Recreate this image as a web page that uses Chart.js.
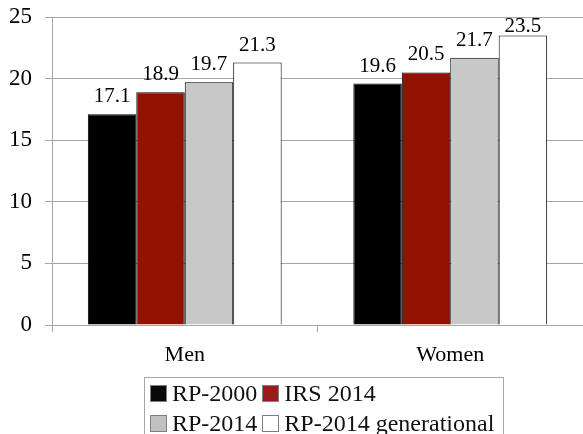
<!DOCTYPE html>
<html lang="en">
<head>
  <meta charset="UTF-8" />
  <title>Life expectancy by mortality table</title>
  <script src="https://cdn.jsdelivr.net/npm/chart.js"></script>
  <style>
    * { margin: 0; padding: 0; box-sizing: border-box; }
    body { background: #fff; font-family: 'Liberation Serif', serif; }
    .wrap { position: relative; width: 583px; height: 434px; overflow: hidden; }
    .legend {
      position: absolute; left: 144px; top: 377px; width: 360px; height: 80px;
      border: 1px solid #a6a6a6; padding: 0 0 0 5px;
      display: grid; grid-template-columns: max-content max-content; justify-content: start;
      align-content: start; column-gap: 5px; font-size: 24px; line-height: 30px;
      color: #111; white-space: nowrap;
    }
    .legend span.box {
      display: inline-block; width: 17px; height: 17px; vertical-align: -1px;
      margin-right: 5px; border: 1px solid #7f7f7f;
    }
  </style>
</head>
<body>
  <div class="wrap">
    <canvas id="chart"></canvas>
    <div class="legend" id="legend"></div>
  </div>

  <script>
    // categories and series
    const categories = ['Men', 'Women'];
    const seriesNames = ['RP-2000', 'IRS 2014', 'RP-2014', 'RP-2014 generational'];
    const rp2000 = [17.1, 19.6];
    const irs2014 = [18.9, 20.5];
    const rp2014 = [19.7, 21.7];
    const rp2014Gen = [21.3, 23.5];
    const yTicks = [0, 5, 10, 15, 20, 25];

    const barColors = ['#000000', '#921100', '#c8c8c8', '#ffffff'];
    const legendColors = ['#0a0a0a', '#9b1b1b', '#c0c0c0', '#ffffff'];
    const allSeries = [rp2000, irs2014, rp2014, rp2014Gen];

    // value labels above each bar, kept inside the plot area
    const barLabels = {
      id: 'barLabels',
      afterDatasetsDraw(chart) {
        const ctx = chart.ctx;
        const top = chart.chartArea.top;
        ctx.save();
        ctx.font = '21px "Liberation Serif", serif';
        ctx.fillStyle = '#000';
        ctx.textAlign = 'center';
        ctx.textBaseline = 'alphabetic';
        chart.data.datasets.forEach((ds, i) => {
          chart.getDatasetMeta(i).data.forEach((bar, j) => {
            let y = bar.y - 12;
            if (y - 15 < top) y = top + 15;
            ctx.fillText(ds.data[j].toFixed(1), bar.x, y);
          });
        });
        ctx.restore();
      }
    };

    const gridColor = '#a6a6a6';

    new Chart(document.getElementById('chart'), {
      type: 'bar',
      data: {
        labels: categories,
        datasets: seriesNames.map((name, i) => ({
          label: name,
          data: allSeries[i],
          backgroundColor: barColors[i],
          borderColor: '#000',
          borderWidth: 1,
          borderSkipped: 'bottom',
          categoryPercentage: 0.73,
          barPercentage: 1.0
        }))
      },
      options: {
        responsive: true,
        maintainAspectRatio: false,
        animation: false,
        layout: { padding: { top: 17, right: 0, bottom: 69, left: 0 } },
        plugins: {
          legend: { display: false },
          tooltip: { enabled: false }
        },
        scales: {
          x: {
            grid: { drawOnChartArea: false, color: gridColor, tickLength: 7 },
            border: { color: gridColor },
            ticks: { color: '#000', font: { family: 'Liberation Serif', size: 22 }, padding: 10 },
            afterFit: s => { s.height = 40; }
          },
          y: {
            min: 0,
            max: 25,
            afterBuildTicks: s => { s.ticks = yTicks.map(v => ({ value: v })); },
            grid: { color: gridColor, tickLength: 7 },
            border: { color: gridColor },
            ticks: { color: '#000', font: { family: 'Liberation Serif', size: 23 }, padding: 13 },
            afterFit: s => { s.width = 52; s.paddingTop = 0; s.paddingBottom = 0; }
          }
        }
      },
      plugins: [barLabels]
    });

    // legend in two rows, boxed
    const legend = document.getElementById('legend');
    seriesNames.forEach((name, i) => {
      const item = document.createElement('div');
      const box = document.createElement('span');
      box.className = 'box';
      box.style.background = legendColors[i];
      item.appendChild(box);
      item.appendChild(document.createTextNode(name));
      legend.appendChild(item);
    });
  </script>
</body>
</html>
